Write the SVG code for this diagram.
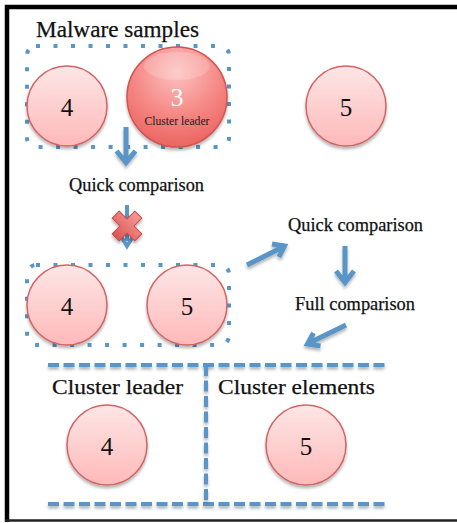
<svg xmlns="http://www.w3.org/2000/svg" width="457" height="523" viewBox="0 0 457 523">
  <style>
    .lbl { font-family: "Liberation Serif", "DejaVu Serif", serif; fill: #111; stroke: #111; stroke-width: 0.25; }
    .num { font-family: "Liberation Serif", "DejaVu Serif", serif; font-size: 25px; fill: #111; text-anchor: middle; }
    .ball { fill: url(#pinkFill); stroke: #d26464; stroke-width: 1.5; filter: url(#soft); }
    .dots { fill: none; stroke: #5a95c8; stroke-width: 4; stroke-dasharray: 4 13.5; }
    .dash { fill: none; stroke: #5a95c8; stroke-width: 4; stroke-dasharray: 11 4.5; filter: url(#softPage); }
    .arrow { fill: none; stroke: #5a95c8; stroke-width: 5; stroke-linejoin: miter; filter: url(#softPage); }
  </style>
  <defs>
    <linearGradient id="pinkFill" x1="0" y1="0" x2="0" y2="1">
      <stop offset="0" stop-color="#fde6e6"/>
      <stop offset="1" stop-color="#ffb9b9"/>
    </linearGradient>
    <radialGradient id="leaderFill" cx="0.5" cy="0.25" r="0.8">
      <stop offset="0" stop-color="#fcc2c0"/>
      <stop offset="0.55" stop-color="#f58784"/>
      <stop offset="1" stop-color="#ea5f5b"/>
    </radialGradient>
    <linearGradient id="crossFill" x1="0" y1="0" x2="0" y2="1">
      <stop offset="0" stop-color="#f59a98"/>
      <stop offset="1" stop-color="#dd5553"/>
    </linearGradient>
    <filter id="soft" x="-20%" y="-20%" width="140%" height="150%">
      <feDropShadow dx="0" dy="2.5" stdDeviation="1.8" flood-color="#000" flood-opacity="0.3"/>
    </filter>
    <!-- page-sized region so thin straight strokes keep their shadow -->
    <filter id="softPage" filterUnits="userSpaceOnUse" x="0" y="0" width="457" height="523">
      <feDropShadow dx="0" dy="2.5" stdDeviation="1.8" flood-color="#000" flood-opacity="0.3"/>
    </filter>
  </defs>

  <!-- page frame -->
  <path d="M7 522 V7 H457" fill="none" stroke="#000" stroke-width="4.5"/>
  <line x1="5" y1="520.5" x2="457" y2="520.5" stroke="#222" stroke-width="2.5"/>

  <text class="lbl" x="36" y="37" font-size="23" textLength="163" lengthAdjust="spacingAndGlyphs">Malware samples</text>

  <!-- groupings -->
  <g id="groups">
    <rect class="dots" x="27" y="46" width="202" height="101" rx="9"/>
    <rect class="dots" x="27" y="265" width="202" height="80" rx="9"/>
    <path class="dash" d="M48 365 H386"/>
    <path class="dash" d="M48 504 H386"/>
    <path class="dash" d="M206 365 V504"/>
  </g>

  <!-- nodes -->
  <g id="sample-4">
    <circle class="ball" cx="67" cy="106" r="40"/>
    <text class="num" x="67" y="116">4</text>
  </g>
  <g id="sample-3">
    <circle cx="177" cy="97" r="50" fill="url(#leaderFill)" stroke="#cf5552" stroke-width="1.5" filter="url(#soft)"/>
    <ellipse cx="177" cy="66" rx="33" ry="14" fill="#fff" opacity="0.18"/>
    <text x="177" y="106" font-family="Liberation Serif, DejaVu Serif, serif" font-size="26" fill="#fff" text-anchor="middle">3</text>
    <text x="177" y="125" font-family="Liberation Serif, DejaVu Serif, serif" font-size="12" fill="#1a1a1a" text-anchor="middle" textLength="65" lengthAdjust="spacingAndGlyphs">Cluster leader</text>
  </g>
  <g id="sample-5">
    <circle class="ball" cx="346" cy="106" r="40"/>
    <text class="num" x="346" y="116">5</text>
  </g>
  <g id="cand-4">
    <circle class="ball" cx="67" cy="305" r="40"/>
    <text class="num" x="67" y="315">4</text>
  </g>
  <g id="cand-5">
    <circle class="ball" cx="187" cy="305" r="40"/>
    <text class="num" x="187" y="315">5</text>
  </g>
  <g id="leader-4">
    <circle class="ball" cx="107" cy="445" r="40"/>
    <text class="num" x="107" y="455">4</text>
  </g>
  <g id="element-5">
    <circle class="ball" cx="306" cy="445" r="40"/>
    <text class="num" x="306" y="455">5</text>
  </g>

  <!-- labels -->
  <text class="lbl" x="69" y="191" font-size="18" textLength="135" lengthAdjust="spacingAndGlyphs">Quick comparison</text>
  <text class="lbl" x="288" y="231" font-size="18" textLength="135" lengthAdjust="spacingAndGlyphs">Quick comparison</text>
  <text class="lbl" x="295" y="310" font-size="18" textLength="120" lengthAdjust="spacingAndGlyphs">Full comparison</text>
  <text class="lbl" x="52" y="394" font-size="22" textLength="131" lengthAdjust="spacingAndGlyphs">Cluster leader</text>
  <text class="lbl" x="218" y="394" font-size="22" textLength="157" lengthAdjust="spacingAndGlyphs">Cluster elements</text>

  <!-- connectors -->
  <g id="connectors">
    <path class="arrow" d="M126 127 V162 M116.5 151 L126 162.5 L135.5 151"/>
    <path d="M127 205 V241 M122 238 L127 246 L132 238" fill="none" stroke="#5a95c8" stroke-width="4"/>
    <path class="arrow" d="M247 265 L284 246.5 M272 244 L284.5 246 L279 257"/>
    <path class="arrow" d="M345 246 V282 M336 271 L345 282.5 L354 271"/>
    <path class="arrow" d="M346 325 L308 343.5 M320.5 346 L307.5 344 L313.5 333"/>
  </g>

  <!-- rejected comparison mark -->
  <g id="reject-mark" filter="url(#soft)">
    <g transform="translate(127 226) rotate(45)">
      <path d="M-5 -16 H5 V-5 H16 V5 H5 V16 H-5 V5 H-16 V-5 H-5 Z" fill="url(#crossFill)" stroke="#c94a48" stroke-width="1" stroke-linejoin="round"/>
    </g>
  </g>
</svg>
